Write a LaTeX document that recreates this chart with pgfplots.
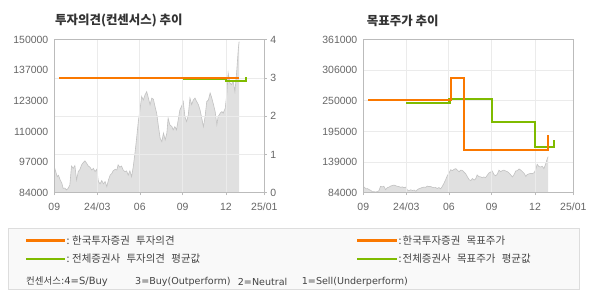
\documentclass[border=0pt]{standalone}
\usepackage{pgfplots}
\usepackage{pgfplotstable}
\pgfplotsset{compat=1.18}
\usepackage{fontspec}
\setmainfont{Noto Sans CJK KR}
\newfontfamily\tickfont{Liberation Sans}
\newfontfamily\lat{DejaVu Sans}
\definecolor{orgC}{HTML}{FA7800}
\definecolor{grnC}{HTML}{7FBB00}
\definecolor{fillC}{HTML}{E0E0E0}
\definecolor{edgeC}{HTML}{C2C2C2}
\definecolor{gridC}{HTML}{EBEBEB}
\definecolor{frameC}{HTML}{BBBBBB}
\definecolor{tickC}{HTML}{666666}
\definecolor{titleC}{HTML}{333333}
\definecolor{legbg}{HTML}{F9F9F9}
\definecolor{legbd}{HTML}{DDDDDD}
\definecolor{legtx}{HTML}{444444}

\pgfplotstableread{
x p
0.00 95200
0.01 94550
0.07 90900
0.10 91500
0.14 89500
0.18 88100
0.21 85900
0.25 86000
0.29 85200
0.33 85900
0.37 87300
0.41 95500
0.45 94500
0.49 95700
0.53 89500
0.57 93100
0.61 94000
0.65 96000
0.69 97000
0.73 97700
0.77 96700
0.81 95500
0.85 95000
0.89 93800
0.93 94500
0.97 93100
1.01 94100
1.05 88800
1.09 87800
1.13 89200
1.17 87800
1.21 88800
1.25 86600
1.29 89500
1.33 91600
1.37 92300
1.40 93400
1.45 94100
1.49 93800
1.52 96000
1.56 95000
1.60 95500
1.64 93800
1.68 93100
1.72 93400
1.76 91600
1.80 93400
1.84 90900
1.88 95200
1.92 101000
1.96 107500
2.00 114700
2.04 119700
2.08 125500
2.12 124000
2.16 126200
2.20 127600
2.24 124800
2.28 121900
2.32 124800
2.36 124300
2.40 121000
2.44 118000
2.48 112500
2.52 107500
2.56 106000
2.60 109700
2.64 106800
2.68 109700
2.71 116200
2.75 113300
2.80 112500
2.83 111100
2.87 112500
2.91 111100
2.95 115400
2.99 119700
3.03 121200
3.07 123300
3.11 116800
3.15 114700
3.19 117500
3.23 124800
3.27 122000
3.31 124000
3.35 124800
3.39 123300
3.43 122000
3.47 119700
3.51 116200
3.55 112500
3.59 116800
3.63 123300
3.67 124000
3.71 127000
3.75 124800
3.79 122000
3.83 119000
3.87 113300
3.90 116800
3.95 118300
3.99 119000
4.02 118300
4.07 120400
4.11 127000
4.14 135600
4.18 131300
4.22 130600
4.26 132000
4.30 127600
4.34 135600
4.38 145700
4.40 149200
}\price

\pgfplotsset{
  base/.style={scale only axis, width=210bp, height=153bp, xmin=0, xmax=5,
    clip=true, scaled ticks=false,
    axis line style={frameC, line width=0.8bp},
    tick label style={font=\tickfont\fontsize{10.5}{12}\selectfont, text=tickC},
    xticklabel style={yshift=-4bp},
    tick align=outside, major tick length=2.5bp,
    every tick/.style={frameC, line width=0.6bp},
    grid style={gridC, line width=0.9bp},
  },
}

\begin{document}
\begin{tikzpicture}[x=1bp,y=1bp]
\path[use as bounding box, fill=white] (0,0) rectangle (590,300);

\node[anchor=west, inner sep=0, font=\fontsize{12.5}{13}\selectfont\bfseries, text=titleC] at (55,279.5) {투자의견(컨센서스) 추이};
\node[anchor=west, inner sep=0, font=\fontsize{12.5}{13}\selectfont\bfseries, text=titleC] at (366.7,279.5) {목표주가 추이};

% ---------------- left panel ----------------
\begin{axis}[base, at={(54.3bp,107.3bp)}, anchor=south west,
  ymin=84000, ymax=150000,
  axis line style={draw=none},
  xtick=\empty,
  ytick={84000,97200,110400,123600,136800,150000},
  yticklabels={84000,97000,110000,123000,137000,150000},
  ytick style={draw=none},
  ytick pos=left]
\addplot[fill=fillC, draw=none] table[x=x,y=p]{\price} \closedcycle;
\addplot[edgeC, line width=0.6bp] table[x=x,y=p]{\price};
\end{axis}
\begin{axis}[base, at={(54.3bp,107.3bp)}, anchor=south west,
  ymin=0, ymax=4,
  xtick={0,1.024,2.036,3.055,4.088,5},
  xticklabels={09,24/03,06,09,12,25/01},
  ytick={0,1,2,3,4},
  yticklabels={0,1,2,3,4},
  xtick pos=left, ytick pos=right, yticklabel pos=right,
  xmajorgrids, ymajorgrids]
\addplot[grnC, line width=2.2bp, line join=miter] coordinates {(3.055,2.97)(4.088,2.97)(4.088,2.91)(4.56,2.91)(4.56,3.02)};
\addplot[orgC, line width=2.2bp] coordinates {(0.11,3)(4.39,3)};
\end{axis}

% ---------------- right panel ----------------
\begin{axis}[base, at={(363.3bp,107.3bp)}, anchor=south west,
  ymin=84000, ymax=361000, hide axis]
\addplot[fill=fillC, draw=none] table[x=x,y=p]{\price} \closedcycle;
\addplot[edgeC, line width=0.6bp] table[x=x,y=p]{\price};
\end{axis}
\begin{axis}[base, at={(363.3bp,107.3bp)}, anchor=south west,
  ymin=84000, ymax=361000,
  xtick={0,1.024,2.036,3.055,4.088,5},
  xticklabels={09,24/03,06,09,12,25/01},
  ytick={84000,139400,194800,250200,305600,361000},
  yticklabels={84000,139000,195000,250000,306000,361000},
  xtick pos=left, ytick pos=left, ytick style={draw=none},
  xmajorgrids, ymajorgrids]
\addplot[grnC, line width=2.2bp, line join=miter] coordinates {(1.024,246500)(2.05,246500)(2.05,253200)(3.055,253200)(3.055,211700)(4.088,211700)(4.088,167100)(4.54,167100)(4.54,179200)};
\addplot[orgC, line width=2.2bp, line join=miter] coordinates {(0.12,252000)(2.09,252000)(2.09,292000)(2.40,292000)(2.40,161000)(4.40,161000)(4.40,188000)};
\end{axis}

% ---------------- legend ----------------
\draw[fill=legbg, draw=legbd, line width=1bp] (8,11) rectangle (579,72);
\draw[orgC, line width=2.7bp] (26,59.3) -- (65,59.3);
\draw[grnC, line width=2.7bp] (26,41) -- (65,41);
\draw[orgC, line width=2.7bp] (357,59.3) -- (397,59.3);
\draw[grnC, line width=2.7bp] (357,41) -- (397,41);
\begin{scope}[every node/.style={anchor=west, inner sep=0, text=legtx, font=\fontsize{10.5}{12}\selectfont}]
\node at (66.5,59.3) {:\hspace{0.25em}한국투자증권\hspace{0.6em}투자의견};
\node at (66.5,41) {:\hspace{0.25em}전체증권사\hspace{0.6em}투자의견\hspace{0.6em}평균값};
\node at (398.5,59.3) {:\hspace{0.1em}한국투자증권\hspace{0.6em}목표주가};
\node at (398.5,41) {:\hspace{0.1em}전체증권사\hspace{0.6em}목표주가\hspace{0.6em}평균값};
\node at (26,18.5) {\fontsize{9.5}{11}\selectfont 컨센서스\lat\fontsize{10}{11}\selectfont :4=S/Buy};
\node at (135,18.5) {\lat\fontsize{9.6}{11}\selectfont 3=Buy(Outperform)};
\node at (237.7,18.5) {\lat\fontsize{9.6}{11}\selectfont 2=Neutral};
\node at (301.7,18.5) {\lat\fontsize{9.6}{11}\selectfont 1=Sell(Underperform)};
\end{scope}
\end{tikzpicture}
\end{document}
